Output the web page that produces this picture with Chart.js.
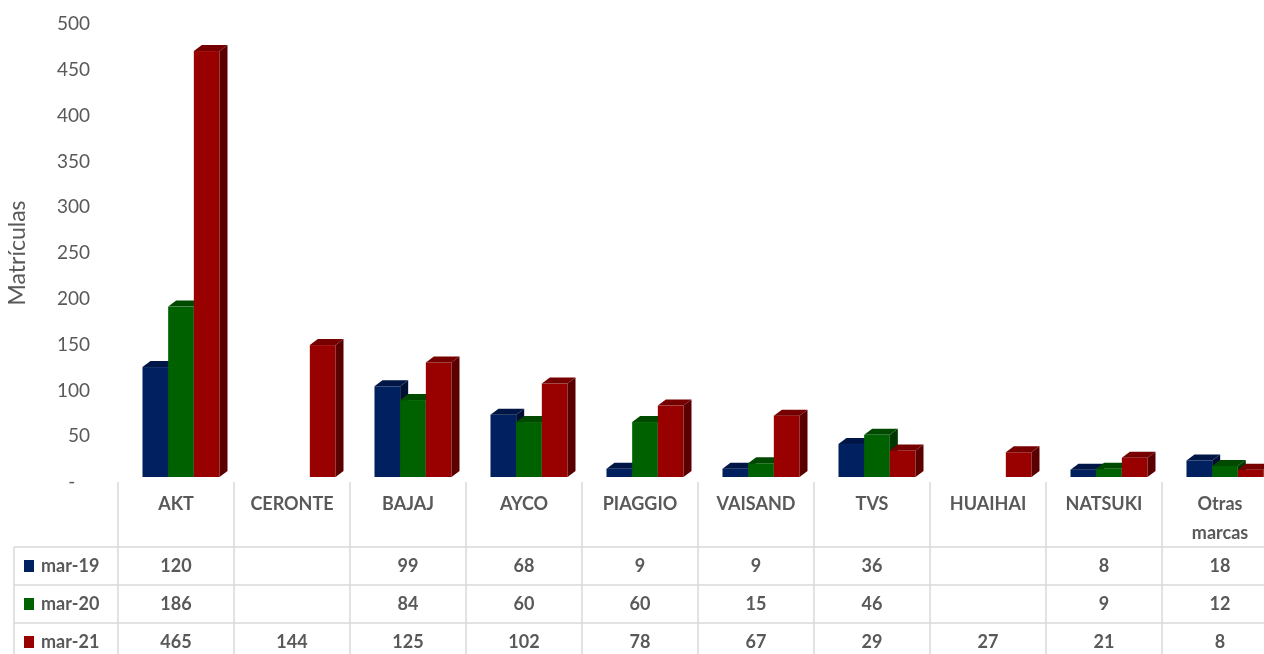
<!DOCTYPE html>
<html>
<head>
<meta charset="utf-8">
<script src="https://cdn.jsdelivr.net/npm/chart.js@4.4.0/dist/chart.umd.min.js"></script>
<style>
  html, body { margin: 0; padding: 0; background: #fff; overflow: hidden; }
  #wrap { position: relative; width: 1280px; height: 654px; }
</style>
</head>
<body>
<div id="wrap"><canvas id="chart"></canvas></div>
<script>
// Matrículas por marca, marzo 2019 / 2020 / 2021 (3D column + data table)
const categories = ['AKT', 'CERONTE', 'BAJAJ', 'AYCO', 'PIAGGIO', 'VAISAND', 'TVS', 'HUAIHAI', 'NATSUKI', ['Otras', 'marcas']];
const seriesNames = ['mar-19', 'mar-20', 'mar-21'];
const mar19 = [120, null, 99, 68, 9, 9, 36, null, 8, 18];
const mar20 = [186, null, 84, 60, 60, 15, 46, null, 9, 12];
const mar21 = [465, 144, 125, 102, 78, 67, 29, 27, 21, 8];
const yTicks = [0, 50, 100, 150, 200, 250, 300, 350, 400, 450, 500];

const colors = {
  front: ['#002060', '#006100', '#990000'],
  top:   ['#001646', '#004a00', '#760000'],
  side:  ['#000f33', '#003600', '#5a0000'],
};

const FONT = 'Lato, "Open Sans", sans-serif';
const GREY = '#595959';

// fake 3D: shift the front face and add a top + right face
const bars3d = {
  id: 'bars3d',
  beforeDatasetsDraw(chart) {
    const ctx = chart.ctx;
    const ox = 5, oy = -5, dx = 8, dy = 6;
    chart.data.datasets.forEach((ds, i) => {
      const meta = chart.getDatasetMeta(i);
      meta.data.forEach((el, j) => {
        if (ds.data[j] == null) return;
        const w = el.width;
        const L = el.x - w / 2 + ox, R = el.x + w / 2 + ox;
        const T = el.y + oy, B = el.base + oy;
        ctx.save();
        ctx.fillStyle = colors.front[i];
        ctx.fillRect(L, T, R - L, B - T);
        ctx.fillStyle = colors.top[i];
        ctx.beginPath();
        ctx.moveTo(L, T); ctx.lineTo(L + dx, T - dy); ctx.lineTo(R + dx, T - dy); ctx.lineTo(R, T);
        ctx.closePath(); ctx.fill();
        ctx.fillStyle = colors.side[i];
        ctx.beginPath();
        ctx.moveTo(R, T); ctx.lineTo(R + dx, T - dy); ctx.lineTo(R + dx, B - dy); ctx.lineTo(R, B);
        ctx.closePath(); ctx.fill();
        ctx.restore();
      });
    });
    return false;
  },
};

// data table under the plot, columns taken from the x scale
const dataTable = {
  id: 'dataTable',
  afterDraw(chart) {
    const ctx = chart.ctx;
    const xs = chart.scales.x;
    const top = chart.chartArea.bottom;
    const headH = 65, rowH = 38;
    const half = (xs.getPixelForValue(1) - xs.getPixelForValue(0)) / 2;
    const left = xs.getPixelForValue(0) - half;
    const right = xs.getPixelForValue(categories.length - 1) + half;
    const tableLeft = 14;
    const bottom = top + headH + rowH * 3;

    ctx.save();
    ctx.strokeStyle = '#d9d9d9';
    ctx.lineWidth = 1.5;
    ctx.beginPath();
    // verticals
    for (let i = 0; i <= categories.length; i++) {
      const x = left + i * half * 2;
      ctx.moveTo(x, top); ctx.lineTo(x, bottom);
    }
    ctx.moveTo(tableLeft, top + headH); ctx.lineTo(tableLeft, bottom);
    // horizontals
    for (let r = 0; r < 3; r++) {
      const y = top + headH + r * rowH;
      ctx.moveTo(tableLeft, y); ctx.lineTo(right, y);
    }
    ctx.stroke();

    ctx.fillStyle = GREY;
    ctx.font = 'bold 18px ' + FONT;
    ctx.textAlign = 'center';
    ctx.textBaseline = 'middle';
    categories.forEach((c, i) => {
      const x = xs.getPixelForValue(i);
      const lines = Array.isArray(c) ? c : [c];
      lines.forEach((ln, k) => ctx.fillText(ln, x, top + 22 + k * 29));
    });

    const rows = [mar19, mar20, mar21];
    rows.forEach((vals, r) => {
      const cy = top + headH + r * rowH + rowH / 2;
      ctx.fillStyle = colors.front[r];
      ctx.fillRect(24, cy - 6, 10, 12);
      ctx.fillStyle = GREY;
      ctx.textAlign = 'left';
      ctx.fillText(seriesNames[r], 41, cy);
      ctx.textAlign = 'center';
      vals.forEach((v, i) => {
        if (v != null) ctx.fillText(String(v), xs.getPixelForValue(i), cy);
      });
    });
    ctx.restore();
  },
};

new Chart(document.getElementById('chart'), {
  type: 'bar',
  data: {
    labels: categories,
    datasets: [
      { label: seriesNames[0], data: mar19, backgroundColor: colors.front[0] },
      { label: seriesNames[1], data: mar20, backgroundColor: colors.front[1] },
      { label: seriesNames[2], data: mar21, backgroundColor: colors.front[2] },
    ],
  },
  options: {
    responsive: true,
    maintainAspectRatio: false,
    animation: false,
    categoryPercentage: 0.664,
    barPercentage: 1,
    layout: { padding: { top: 24, bottom: 172, right: 2, left: 0 } },
    plugins: { legend: { display: false }, tooltip: { enabled: false } },
    scales: {
      x: { display: false },
      y: {
        min: 0,
        max: 500,
        afterBuildTicks(axis) { axis.ticks = yTicks.map((v) => ({ value: v })); },
        afterFit(axis) {
          axis.width = 118;
          // the big tick padding should not push the plot area down
          axis.paddingTop = 0;
          axis.paddingBottom = 0;
        },
        grid: { display: false, drawTicks: false },
        border: { display: false },
        ticks: {
          padding: 28,
          color: GREY,
          font: { family: FONT, size: 19 },
          callback: (v) => (v === 0 ? '-   ' : v),
        },
        title: {
          display: true,
          text: 'Matrículas',
          color: GREY,
          font: { family: FONT, size: 23 },
          padding: { top: 4, bottom: 0 },
        },
      },
    },
  },
  plugins: [bars3d, dataTable],
});
</script>
</body>
</html>
